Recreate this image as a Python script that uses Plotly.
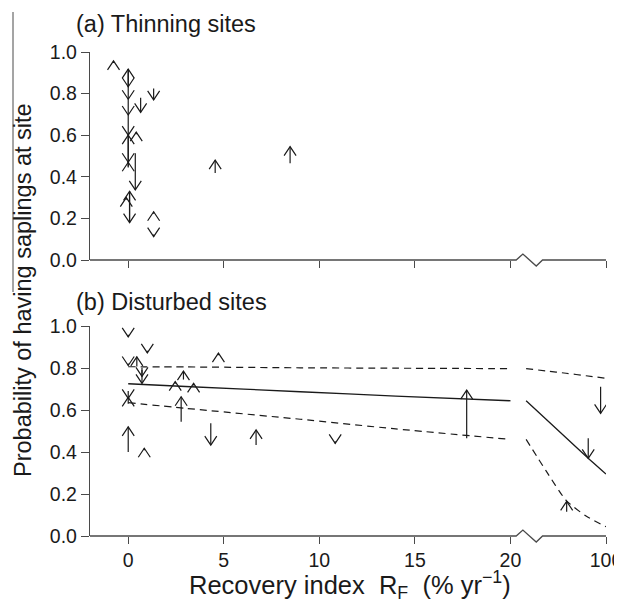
import plotly.graph_objects as go

# ---------------- data ----------------
# Panel (a) Thinning sites: arrows from start probability to end probability
thin_rf = [-0.77, 0, 0, 0, 0, 0, 0, 0, 0, 0.42, 0.65, 1.33, 0.37, 0.07, 0.07, -0.1, 1.33, 1.33, 4.55, 8.47]
thin_from = [0.947, 0.83, 0.918, 0.833, 0.773, 0.697, 0.45, 0.60, 0.445, 0.605, 0.78, 0.825, 0.513, 0.18, 0.33, 0.29, 0.222, 0.122, 0.418, 0.465]
thin_to = [0.957, 0.918, 0.833, 0.773, 0.697, 0.60, 0.60, 0.47, 0.47, 0.615, 0.71, 0.77, 0.337, 0.33, 0.18, 0.30, 0.232, 0.112, 0.48, 0.545]

# Panel (b) Disturbed sites
dist_rf = [0, 1.0, 0, 0.45, 0.72, 0.72, 2.89, 2.46, 3.42, 0, 0, 2.77, 0, 0.84, 4.32, 6.69, 4.72, 10.83, 17.71, 94.6, 82.2, 60.6]
dist_from = [0.958, 0.882, 0.822, 0.807, 0.80, 0.79, 0.745, 0.725, 0.717, 0.63, 0.69, 0.544, 0.40, 0.408, 0.537, 0.433, 0.861, 0.451, 0.465, 0.711, 0.465, 0.116]
dist_to = [0.948, 0.872, 0.812, 0.853, 0.76, 0.727, 0.785, 0.735, 0.727, 0.66, 0.655, 0.663, 0.52, 0.418, 0.433, 0.505, 0.871, 0.441, 0.695, 0.584, 0.37, 0.165]

# Fitted curve and confidence band, panel (b): left part (0-20) and right part (20-100)
fit_left_rf = [0, 3, 9, 14, 20]
fit_left_mid = [0.725, 0.712, 0.687, 0.666, 0.644]
fit_left_lo = [0.635, 0.608, 0.556, 0.51, 0.46]
fit_left_hi = [0.806, 0.805, 0.801, 0.799, 0.797]
fit_right_rf = [20, 40, 60, 80, 100]
fit_right_mid = [0.644, 0.556, 0.468, 0.38, 0.295]
fit_right_lo = [0.46, 0.31, 0.17, 0.095, 0.044]
fit_right_hi = [0.797, 0.786, 0.775, 0.763, 0.751]

x_tick_vals = [0, 5, 10, 15, 20, 100]
x_tick_text = ["0", "5", "10", "15", "20", "100"]
y_tick_vals = [0, 0.2, 0.4, 0.6, 0.8, 1.0]
y_tick_text = ["0.0", "0.2", "0.4", "0.6", "0.8", "1.0"]

# ---------------- layout geometry (screen pixels) ----------------
OFF = 8                      # page body margin around the figure
W, H = 622 - OFF, 600 - OFF  # figure size so it ends at the window edge
L_PX, R_PX = 90, 606
XMIN, XMAX = -2.0, 25.0
BREAK_AT, RIGHT_START, RIGHT_END, RIGHT_MAX = 20.0, 20.82, 25.0, 100.0
A_TOP, A_BOT = 52, 260
B_TOP, B_BOT = 326, 536
XPX = (R_PX - L_PX) / (XMAX - XMIN)


def xdisp(rf, right=False):
    if rf < BREAK_AT or (rf == BREAK_AT and not right):
        return rf
    return RIGHT_START + (rf - BREAK_AT) * (RIGHT_END - RIGHT_START) / (RIGHT_MAX - BREAK_AT)


def px2paper_x(px):
    return (px - OFF) / W


def px2paper_y(py):
    return 1 - (py - OFF) / H


def xpaper(d):
    return px2paper_x(L_PX + (d - XMIN) * XPX)


FONT = "Liberation Sans, Arial, sans-serif"
INK = "#1a1a1a"
AXC = "#4a4a4a"
HEAD_W, HEAD_L = 6.0, 9.0


def arrows(rfs, y0s, y1s, ypx_per_unit):
    X, Y = [], []
    hw = HEAD_W / XPX
    hl = HEAD_L / ypx_per_unit
    for rf, a, b in zip(rfs, y0s, y1s):
        d = xdisp(rf, right=True)
        s = 1 if b > a else -1
        X += [d, d, None, d - hw, d, d + hw, None]
        Y += [a, b, None, b - s * hl, b, b - s * hl, None]
    return X, Y


fig = go.Figure()

ax, ay = arrows(thin_rf, thin_from, thin_to, A_BOT - A_TOP)
fig.add_trace(go.Scatter(x=ax, y=ay, mode="lines", line=dict(color=INK, width=1.2),
                         xaxis="x", yaxis="y", showlegend=False, hoverinfo="skip"))
bx, by = arrows(dist_rf, dist_from, dist_to, B_BOT - B_TOP)
fig.add_trace(go.Scatter(x=bx, y=by, mode="lines", line=dict(color=INK, width=1.2),
                         xaxis="x2", yaxis="y2", showlegend=False, hoverinfo="skip"))

for rfs, ys_list, right in [(fit_left_rf, (fit_left_mid, fit_left_lo, fit_left_hi), False),
                            (fit_right_rf, (fit_right_mid, fit_right_lo, fit_right_hi), True)]:
    xs = [xdisp(v, right=right) for v in rfs]
    for i, ys in enumerate(ys_list):
        fig.add_trace(go.Scatter(
            x=xs, y=ys, mode="lines", xaxis="x2", yaxis="y2", showlegend=False, hoverinfo="skip",
            line=dict(color=INK, width=1.3 if i == 0 else 1.2, dash="solid" if i == 0 else "7px,5px",
                      shape="spline", smoothing=0.6)))

tickvals_disp = [xdisp(v, right=(v > BREAK_AT)) for v in x_tick_vals]

xcommon = dict(domain=[px2paper_x(L_PX), px2paper_x(R_PX)], range=[XMIN, XMAX], showline=False,
               showgrid=False, zeroline=False, ticks="outside", ticklen=7, tickwidth=1.3,
               tickcolor=AXC, tickvals=tickvals_disp, ticktext=x_tick_text, automargin=False,
               ticklabeloverflow="allow", tickfont=dict(family=FONT, size=19.5, color=INK))
ycommon = dict(range=[0, 1.0], showline=True, linecolor=AXC, linewidth=1.3, showgrid=False,
               zeroline=False, ticks="outside", ticklen=8, tickwidth=1.3, tickcolor=AXC,
               tickvals=y_tick_vals, ticktext=y_tick_text, automargin=False,
               ticklabeloverflow="allow", tickfont=dict(family=FONT, size=19.5, color=INK))

shapes = []
for bot in (A_BOT, B_BOT):
    pts = [(XMIN, 0), (20.3, 0), (20.65, -6), (21.35, 6), (21.68, 0), (XMAX, 0)]
    path = "M " + " L ".join(f"{xpaper(d):.5f},{px2paper_y(bot + dy):.5f}" for d, dy in pts)
    shapes.append(dict(type="path", path=path, xref="paper", yref="paper",
                       line=dict(color=AXC, width=1.3)))
# vertical rule seen beside the y-axis title
shapes.append(dict(type="line", xref="paper", yref="paper", x0=px2paper_x(13), x1=px2paper_x(13),
                   y0=px2paper_y(12), y1=px2paper_y(292), line=dict(color=AXC, width=1)))

annotations = [
    dict(text="(a) Thinning sites", x=px2paper_x(74), y=px2paper_y(24), xref="paper", yref="paper",
         xanchor="left", yanchor="middle", showarrow=False, font=dict(family=FONT, size=23.5, color=INK)),
    dict(text="(b) Disturbed sites", x=px2paper_x(74), y=px2paper_y(302), xref="paper", yref="paper",
         xanchor="left", yanchor="middle", showarrow=False, font=dict(family=FONT, size=23.5, color=INK)),
    dict(text="Probability of having saplings at site", x=px2paper_x(23), y=px2paper_y(290),
         xref="paper", yref="paper", textangle=-90, xanchor="center", yanchor="middle",
         showarrow=False, font=dict(family=FONT, size=23.5, color=INK)),
    dict(text="Recovery index  R<sub>F</sub>  (% yr<sup>\u22121</sup>)", x=px2paper_x(350),
         y=px2paper_y(585), xref="paper", yref="paper", xanchor="center", yanchor="middle",
         showarrow=False, font=dict(family=FONT, size=25.5, color=INK)),
]

fig.update_layout(
    width=W, height=H, margin=dict(l=0, r=0, t=0, b=0, pad=0, autoexpand=False),
    paper_bgcolor="white", plot_bgcolor="white",
    xaxis=dict(**xcommon, anchor="y", showticklabels=False),
    yaxis=dict(**ycommon, domain=[px2paper_y(A_BOT), px2paper_y(A_TOP)], anchor="x"),
    xaxis2=dict(**xcommon, anchor="y2", showticklabels=True),
    yaxis2=dict(**ycommon, domain=[px2paper_y(B_BOT), px2paper_y(B_TOP)], anchor="x2"),
    shapes=shapes, annotations=annotations,
)

fig.write_html("out.html")
